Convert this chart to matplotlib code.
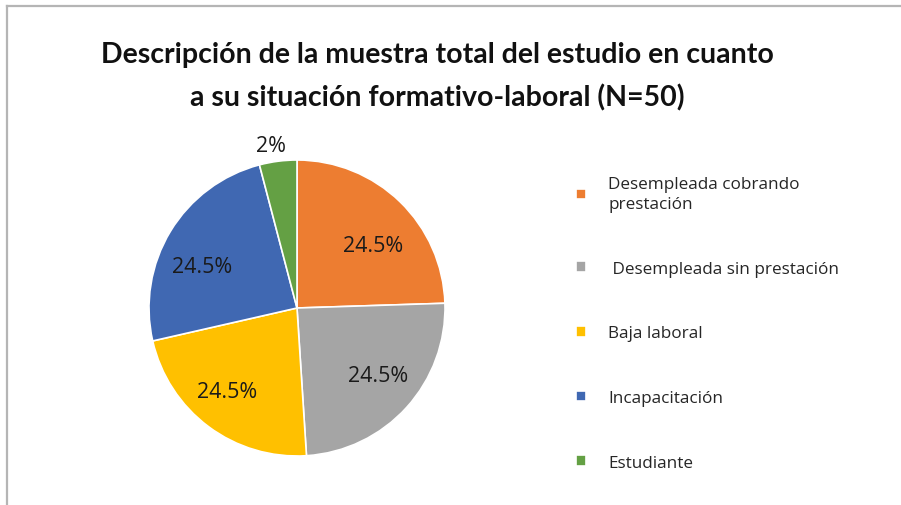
import matplotlib
matplotlib.use("Agg")
import matplotlib.pyplot as plt
from matplotlib.lines import Line2D
import numpy as np

categories = ["Desempleada cobrando\nprestación", " Desempleada sin prestación",
              "Baja laboral", "Incapacitación", "Estudiante"]
counts = [12, 12, 11, 12, 2]
value_labels = ["24.5%", "24.5%", "24.5%", "24.5%", "2%"]
colors = ["#ED7D31", "#A5A5A5", "#FFC000", "#4068B2", "#64A044"]
title = "Descripción de la muestra total del estudio en cuanto\na su situación formativo-laboral (N=50)"

W, H = 901, 506
fig = plt.figure(figsize=(W / 100, H / 100), dpi=100)
fig.patch.set_facecolor("white")

cx, cy, r = 297, 309, 148
ax = fig.add_axes([(cx - r) / W, (H - cy - r) / H, 2 * r / W, 2 * r / H])
wedges, _ = ax.pie(counts, colors=colors, startangle=90, counterclock=False,
                   radius=1, wedgeprops=dict(edgecolor="white", linewidth=1.2))
ax.set_xlim(-1, 1)
ax.set_ylim(-1, 1)
ax.set_aspect("equal")
ax.axis("off")

dists = [0.68, 0.70, 0.72, 0.71, 1.13]
shifts = [-5, 4, -4, 6, 1.5]  # small angular nudges (degrees) like the original layout
for w, lab, d, s in zip(wedges, value_labels, dists, shifts):
    ang = np.deg2rad((w.theta1 + w.theta2) / 2 + s)
    ax.text(d * np.cos(ang), d * np.sin(ang) - 0.02, lab, ha="center", va="center",
            fontsize=15.4, family="Open Sans", color="#1a1a1a", clip_on=False)

fig.text(0.485, 0.848, title, ha="center", va="center", fontsize=20.5,
         fontweight="bold", family="Lato", color="#111111", linespacing=1.72)

leg = fig.legend(wedges, categories, loc="upper left", bbox_to_anchor=(0.622, 0.68),
                 frameon=False, prop=dict(family="Open Sans", size=12.3),
                 labelspacing=2.85, handlelength=0.6, handleheight=0.6,
                 handletextpad=1.3, labelcolor="#262626")
leg.get_texts()[0].set_linespacing(1.3)

# chart border (top and left)
fig.add_artist(Line2D([7 / W, 7 / W], [0, 1 - 7 / H], color="#B5B5B5", lw=1.6))
fig.add_artist(Line2D([7 / W, 1], [1 - 7 / H, 1 - 7 / H], color="#B5B5B5", lw=1.6))

fig.savefig("out.png", dpi=100)
